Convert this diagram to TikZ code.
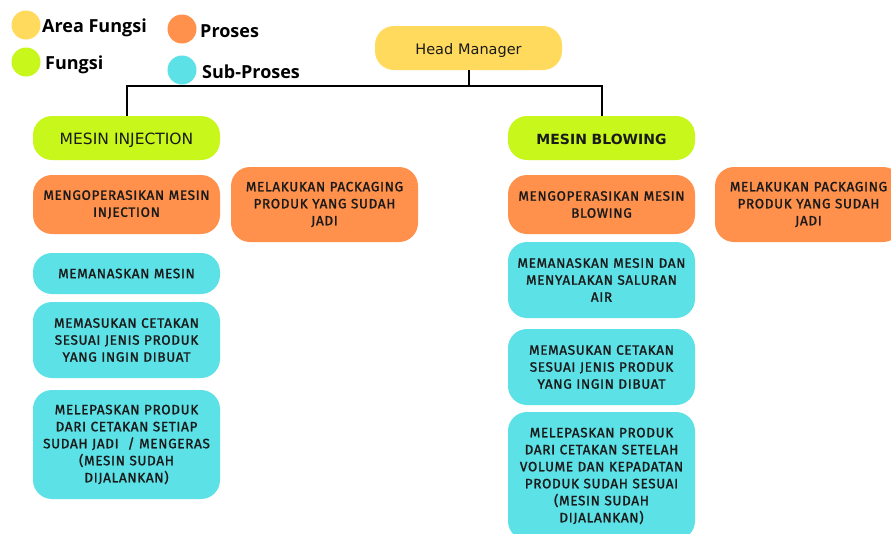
\documentclass[tikz,border=0pt]{standalone}
\usepackage{fontspec}
\setmainfont{Open Sans}
\newfontfamily\boxfont[LetterSpace=5, FakeBold=1.5]{Fira Sans}
\newfontfamily\hmfont{DejaVu Sans}
\newfontfamily\legfont{Open Sans}
\definecolor{cyel}{HTML}{FFDA5C}
\definecolor{cgrn}{HTML}{C8F71C}
\definecolor{cora}{HTML}{FF914D}
\definecolor{ccya}{HTML}{5CE1E6}
\definecolor{ctxt}{HTML}{1A1A1A}
\begin{document}
\begin{tikzpicture}[x=1pt,y=-1pt,
  box/.style={rounded corners=19pt, minimum width=187pt, inner sep=0pt, text width=187pt, align=center, text=ctxt,
    font=\boxfont\fontsize{13.5}{17}\selectfont},
  ybox/.style={box, fill=cyel},
  gbox/.style={box, fill=cgrn},
  obox/.style={box, fill=cora},
  cbox/.style={box, fill=ccya},
  conn/.style={line width=2pt, black},
  legdot/.style={circle, minimum size=29pt, inner sep=0pt},
  legtext/.style={anchor=west, inner sep=0pt, font=\legfont\bfseries\fontsize{18}{20}\selectfont, text=black}
]
\clip (0,0) rectangle (891,533);
\fill[white] (0,0) rectangle (891,533);
% legend
\node[legdot, fill=cyel] (d1) at (26,25) {};
\node[legtext] (t1) at (42,28) {Area Fungsi};
\node[legdot, fill=cgrn] (d2) at (26,62) {};
\node[legtext] (t2) at (45,65) {Fungsi};
\node[legdot, fill=cora] (d3) at (182,29) {};
\node[legtext] (t3) at (200,31) {Proses};
\node[legdot, fill=ccya] (d4) at (182,70) {};
\node[legtext] (t4) at (202,72) {Sub-Proses};
% top
\node[ybox, minimum height=44pt, text height=12pt, text depth=0pt, font=\hmfont\fontsize{14.5}{16}\selectfont] (hm) at (468.5,48) {Head Manager};
\node[gbox, minimum height=44pt, text height=13pt, text depth=0pt, font=\hmfont\fontsize{15.5}{16}\selectfont] (mi) at (126.5,138) {MESIN INJECTION};
\node[gbox, minimum height=44pt, text height=12pt, text depth=0pt, font=\hmfont\bfseries\fontsize{14}{16}\selectfont] (mb) at (601.5,138) {MESIN BLOWING};
\coordinate (j) at (468.5,86);
\draw[conn] (hm.south) -- (j);
\draw[conn] (j) -| (mi.north);
\draw[conn] (j) -| (mb.north);
% left column
\node[obox, minimum height=59pt] (l1) at (126.5,204.5) {MENGOPERASIKAN MESIN\\INJECTION};
\node[obox, minimum height=75pt] (lp) at (324.5,204.5) {MELAKUKAN PACKAGING\\PRODUK YANG SUDAH\\JADI};
\node[cbox, minimum height=41pt] (l2) at (126.5,273.5) {MEMANASKAN MESIN};
\node[cbox, minimum height=76pt] (l3) at (126.5,340) {MEMASUKAN CETAKAN\\SESUAI JENIS PRODUK\\YANG INGIN DIBUAT};
\node[cbox, minimum height=109pt] (l4) at (126.5,444.5) {MELEPASKAN PRODUK\\DARI CETAKAN SETIAP\\SUDAH JADI~ / MENGERAS\\(MESIN SUDAH\\DIJALANKAN)};
% right column
\node[obox, minimum height=59pt] (r1) at (601.5,204.5) {MENGOPERASIKAN MESIN\\BLOWING};
\node[obox, minimum height=75pt] (rp) at (808.5,204.5) {MELAKUKAN PACKAGING\\PRODUK YANG SUDAH\\JADI};
\node[cbox, minimum height=76pt] (r2) at (601.5,280) {MEMANASKAN MESIN DAN\\MENYALAKAN SALURAN\\AIR};
\node[cbox, minimum height=76pt] (r3) at (601.5,367) {MEMASUKAN CETAKAN\\SESUAI JENIS PRODUK\\YANG INGIN DIBUAT};
\node[cbox, minimum height=128pt] (r4) at (601.5,476) {MELEPASKAN PRODUK\\DARI CETAKAN SETELAH\\VOLUME DAN KEPADATAN\\PRODUK SUDAH SESUAI\\(MESIN SUDAH\\DIJALANKAN)};
\end{tikzpicture}
\end{document}
